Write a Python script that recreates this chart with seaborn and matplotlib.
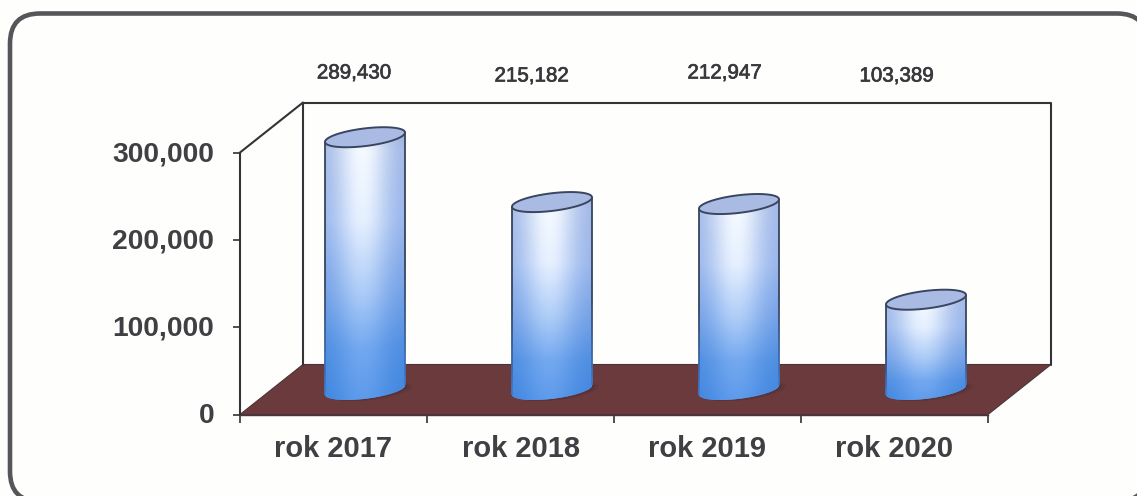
import numpy as np
import matplotlib
matplotlib.use("Agg")
import matplotlib.pyplot as plt
import matplotlib.patheffects as pe
import seaborn as sns
from matplotlib.colors import to_rgb
from matplotlib.patches import FancyBboxPatch, PathPatch, Polygon
from matplotlib.path import Path
from matplotlib.transforms import Affine2D, IdentityTransform

# Chart content
years = ["rok 2017", "rok 2018", "rok 2019", "rok 2020"]
amounts = [289430, 215182, 212947, 103389]
y_ticks = [0, 100000, 200000, 300000]
y_tick_labels = ["0", "100,000", "200,000", "300,000"]

# Placement of the free-floating value labels (pixels from the top left)
label_centres_x = [354, 531.5, 724.5, 896.5]
label_centres_y = [73, 76, 73, 76]

W, H = 1137, 496
INK = "#3f3f44"
LINE = "#333338"
FLOOR = "#6b3a3d"

sns.set_theme(style="white")
plt.rcParams["font.family"] = ["Liberation Sans", "DejaVu Sans"]

fig = plt.figure(figsize=(W / 100, H / 100), dpi=100, facecolor="#fefefc")

# Rounded outer frame on a full-figure pixel canvas; its far corners run off the sheet
canvas = fig.add_axes([0, 0, 1, 1], zorder=0)
canvas.set_xlim(0, W)
canvas.set_ylim(H, 0)
canvas.axis("off")
canvas.add_patch(FancyBboxPatch((10, 13.5), 1137, 488,
                                boxstyle="round,pad=0,rounding_size=30",
                                fc="#fefefd", ec="#55565a", lw=3.3))

# Front plane of the plot: x from 240 to 988 px, y from 414.5 (0) to 152.5 (300,000)
ax = fig.add_axes([240 / W, 1 - 414.5 / H, 748 / W, 262 / H], zorder=1)
ax.patch.set_alpha(0)

sns.barplot(x=years, y=amounts, color="#5b8fe0", width=0.428, ax=ax, saturation=1,
            edgecolor="none", linewidth=0)
ax.set_xlim(-0.5, 3.5)
ax.set_ylim(0, 300000)
ax.set_yticks(y_ticks, y_tick_labels)
ax.xaxis.set_ticks(np.arange(-0.5, 4), minor=False)
ax.set_xticklabels([])
ax.set_xticks(range(4), years, minor=True)
ax.tick_params(axis="x", which="major", length=6, width=1.2, color=LINE, bottom=True, direction="out")
ax.tick_params(axis="x", which="minor", length=0, pad=15, labelsize=21, labelcolor=INK)
ax.tick_params(axis="y", length=5, width=1.2, color=LINE, left=True, pad=13.5,
               labelsize=20.3, labelcolor=INK)
for lab in ax.get_xticklabels(minor=True) + ax.get_yticklabels():
    lab.set_fontweight("bold")
for tick in ax.yaxis.get_major_ticks():
    tick.label1.set_transform(tick.label1.get_transform() + Affine2D().translate(0, 1.5))
for side in ("top", "right"):
    ax.spines[side].set_visible(False)
ax.spines["left"].set_color(LINE)
ax.spines["left"].set_linewidth(1.5)
ax.spines["bottom"].set_color("#4a3438")
ax.spines["bottom"].set_linewidth(1.0)

# Depth of the pseudo-3D box and of the bars inside it, in pixels
back_shift = Affine2D().translate(63, 50)
back = ax.transData + back_shift
side_lines = dict(color=LINE, lw=1.5, clip_on=False, zorder=1.5)

# Back wall outline
ax.plot([-0.5, -0.5, 3.5, 3.5], [0, 300000, 300000, 0], transform=back, **side_lines)
# Slanted edge joining the left axis top to the back wall
p0 = ax.transData.transform((-0.5, 300000))
p1 = back.transform((-0.5, 300000))
ax.plot([p0[0], p1[0]], [p0[1], p1[1]], transform=IdentityTransform(), **side_lines)

# Floor
f0 = ax.transData.transform([(-0.5, 0), (3.5, 0)])
f1 = back.transform([(3.5, 0), (-0.5, 0)])
ax.add_patch(Polygon(np.vstack([f0, f1]), closed=True, transform=IdentityTransform(),
                     fc=FLOOR, ec="#4a3438", lw=0.8, clip_on=False, zorder=1.2))

# Cylinders built on top of the bars
bar_shift = Affine2D().translate(31.5, 24.5)
bar_trans = ax.transData + bar_shift
TILT = np.radians(7)
RX, RY = 40.3, 8.8
CONTOUR_TOP = np.array(to_rgb("#38445e"))
CONTOUR_FOOT = np.array(to_rgb("#3f78c8"))


def ellipse(cx, cy, t):
    x = RX * np.cos(t) * np.cos(TILT) - RY * np.sin(t) * np.sin(TILT)
    y = RX * np.cos(t) * np.sin(TILT) + RY * np.sin(t) * np.cos(TILT)
    return np.column_stack([cx + x, cy + y])


def shade(rows=220, cols=90):
    """Body colours: pale at the top, saturated blue at the foot, with a soft vertical highlight."""
    v = np.linspace(0, 1, rows)[:, None]
    u = np.linspace(0, 1, cols)[None, :]
    stops = [0, 0.1, 0.35, 0.6, 0.8, 1]
    centre = [(.84, .89, .98), (.96, .98, 1), (.90, .94, 1), (.68, .80, .97), (.45, .66, .94), (.36, .60, .92)]
    edge = [(.60, .68, .86), (.62, .71, .90), (.58, .70, .92), (.44, .62, .90), (.30, .55, .88), (.24, .52, .87)]
    s = np.exp(-((u - 0.46) / 0.33) ** 2)[..., None]
    c = np.stack([np.interp(v[:, 0], stops, [p[i] for p in centre]) for i in range(3)], axis=-1)[:, None, :]
    e = np.stack([np.interp(v[:, 0], stops, [p[i] for p in edge]) for i in range(3)], axis=-1)[:, None, :]
    return e * (1 - s) + c * s


for bar, value in zip(ax.patches, amounts):
    bar.set_transform(bar_trans)
    bar.set_zorder(2)
    xc = bar.get_x() + bar.get_width() / 2
    bx, by = bar_trans.transform((xc, 0))
    tx, ty = bar_trans.transform((xc, value))

    # Soft contact shadow on the floor
    for grow, alpha in ((7, 0.18), (3, 0.28)):
        shadow = ellipse(bx + grow, by - 1, np.linspace(0, 2 * np.pi, 80))
        ax.add_patch(Polygon(shadow, closed=True, transform=IdentityTransform(), fc="#3f2a2e",
                             ec="none", alpha=alpha, clip_on=False, zorder=1.8))

    foot = ellipse(bx, by, np.linspace(np.pi, 2 * np.pi, 50))
    head = ellipse(tx, ty, np.linspace(0, np.pi, 50))
    outline = np.vstack([foot, head])
    body = PathPatch(Path(np.vstack([outline, outline[:1]]), closed=True),
                     transform=IdentityTransform(), fc="#5b8fe0", ec="none", zorder=2.1,
                     clip_on=False)
    ax.add_patch(body)

    # The square bar corners stay inside the rounded cylinder outline
    bar.set_clip_on(True)
    bar.set_clip_box(fig.bbox)
    bar.set_clip_path(body)

    # Gradient spans the full cylinder in pixel space and is clipped to its outline only
    corners = ax.transData.inverted().transform(
        bar_shift.inverted().transform([(bx - RX, by - RY - 6), (bx + RX, ty + RY + 6)]))
    img = ax.imshow(shade(), extent=(corners[0, 0], corners[1, 0], corners[0, 1], corners[1, 1]),
                    transform=bar_trans, aspect="auto", interpolation="bilinear", zorder=2.2)
    img.set_clip_box(fig.bbox)
    img.set_clip_path(body)

    # Side contours fade from dark along the body to blue at the foot
    for sx, sy0, sy1 in ((foot[0, 0], foot[0, 1], head[-1, 1]),
                         (foot[-1, 0], foot[-1, 1], head[0, 1])):
        levels = np.linspace(0, 1, 25)
        for a, b in zip(levels[:-1], levels[1:]):
            mix = np.clip(a / 0.45, 0, 1)
            ax.plot([sx, sx], [sy0 + a * (sy1 - sy0), sy0 + b * (sy1 - sy0)],
                    transform=IdentityTransform(), color=CONTOUR_FOOT * (1 - mix) + CONTOUR_TOP * mix,
                    lw=1.3, clip_on=False, zorder=2.3, solid_capstyle="butt")
    lid = ellipse(tx, ty, np.linspace(0, 2 * np.pi, 100))
    ax.add_patch(Polygon(lid, closed=True, transform=IdentityTransform(), fc="#aabbe3",
                         ec="#3a4560", lw=1.4, clip_on=False, zorder=2.4))

ax.set_xlim(-0.5, 3.5)
ax.set_ylim(0, 300000)

# Value labels above the box
for value, lx, ly in zip(amounts, label_centres_x, label_centres_y):
    canvas.text(lx, ly, f"{value:,}", ha="center", va="center", fontsize=14.8, color="#38383d",
                path_effects=[pe.withStroke(linewidth=0.5, foreground="#38383d")])

fig.savefig("out.png", dpi=100, facecolor=fig.get_facecolor())
